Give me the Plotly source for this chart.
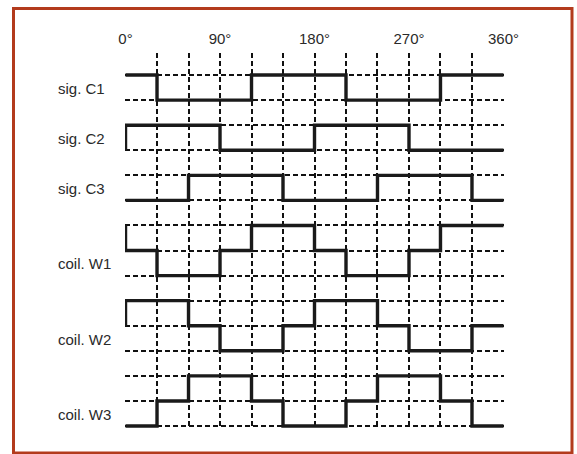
import plotly.graph_objects as go

# ---- data ----
angle_edges = [0, 30, 60, 90, 120, 150, 180, 210, 240, 270, 300, 330, 360]
tick_angles = [0, 90, 180, 270, 360]
tick_labels = ["0°", "90°", "180°", "270°", "360°"]

signal_names = ["sig. C1", "sig. C2", "sig. C3", "coil. W1", "coil. W2", "coil. W3"]
sig_C1 = [1, 0, 0, 0, 1, 1, 1, 0, 0, 0, 1, 1]
sig_C2 = [1, 1, 1, 0, 0, 0, 1, 1, 1, 0, 0, 0]
sig_C3 = [0, 0, 1, 1, 1, 0, 0, 0, 1, 1, 1, 0]
coil_W1 = [1, 0, 0, 1, 2, 2, 1, 0, 0, 1, 2, 2]
coil_W2 = [2, 2, 1, 0, 0, 1, 2, 2, 1, 0, 0, 1]
coil_W3 = [0, 1, 2, 2, 1, 0, 0, 1, 2, 2, 1, 0]

# ---- layout (row baselines in level units) ----
row_base = [13, 11, 9, 6, 3, 0]
series = [sig_C1, sig_C2, sig_C3, coil_W1, coil_W2, coil_W3]

W, H = 577, 454
L, R, T, B = 125, 73, 53, 26
pw, ph = W - L - R, H - T - B

GRID = "#111111"
DASH = "5px,3px"
GW = 1.6
FONT = "Liberation Sans, Arial, sans-serif"

fig = go.Figure()
for name, vals, base in zip(signal_names, series, row_base):
    # wrap-around edge at 0 deg (level at 360 leading into first segment)
    xs = [angle_edges[0]] + angle_edges[:-1] + [angle_edges[-1]]
    ys = [vals[-1] + base] + [v + base for v in vals] + [vals[-1] + base]
    fig.add_trace(go.Scatter(
        x=xs, y=ys, mode="lines", line=dict(color="#1a1a1a", width=3.4, shape="hv"),
        name=name, showlegend=False, hoverinfo="skip"))

annotations = []
for name, base in zip(signal_names, row_base):
    annotations.append(dict(
        xref="paper", yref="y", x=(56 - L) / pw, y=base + 0.47,
        xanchor="left", yanchor="middle", showarrow=False, text=name,
        font=dict(family=FONT, size=15, color="#2a2a2a")))

fig.update_layout(
    width=W, height=H,
    margin=dict(l=L, r=R, t=T, b=B, pad=0),
    paper_bgcolor="white", plot_bgcolor="white",
    annotations=annotations,
    shapes=[dict(type="rect", xref="paper", yref="paper",
                 x0=(13.5 - L) / pw, x1=(572 - L) / pw,
                 y0=(T + ph - 453) / ph, y1=(T + ph - 8.5) / ph,
                 line=dict(color="#b33b1d", width=3), layer="above")],
)
fig.update_xaxes(
    range=[-0.5, 360.5], side="top", tickmode="array",
    tickvals=tick_angles, ticktext=tick_labels, ticks="", ticklabelstandoff=5,
    tickfont=dict(family=FONT, size=15, color="#2a2a2a"),
    showgrid=True, gridcolor=GRID, gridwidth=GW, griddash=DASH,
    minor=dict(tick0=0, dtick=30, showgrid=True, gridcolor=GRID, gridwidth=GW, griddash=DASH),
    zeroline=False, showline=False, fixedrange=True)
fig.update_yaxes(
    range=[-0.08, 14.88], tickmode="linear", tick0=0, dtick=1,
    showticklabels=False, ticks="",
    showgrid=True, gridcolor=GRID, gridwidth=GW, griddash=DASH,
    zeroline=False, showline=False, fixedrange=True)

fig.write_html(
    "out.html",
    config={"displayModeBar": False},
    post_script="document.body.style.margin='0';document.documentElement.style.overflow='hidden';",
)
